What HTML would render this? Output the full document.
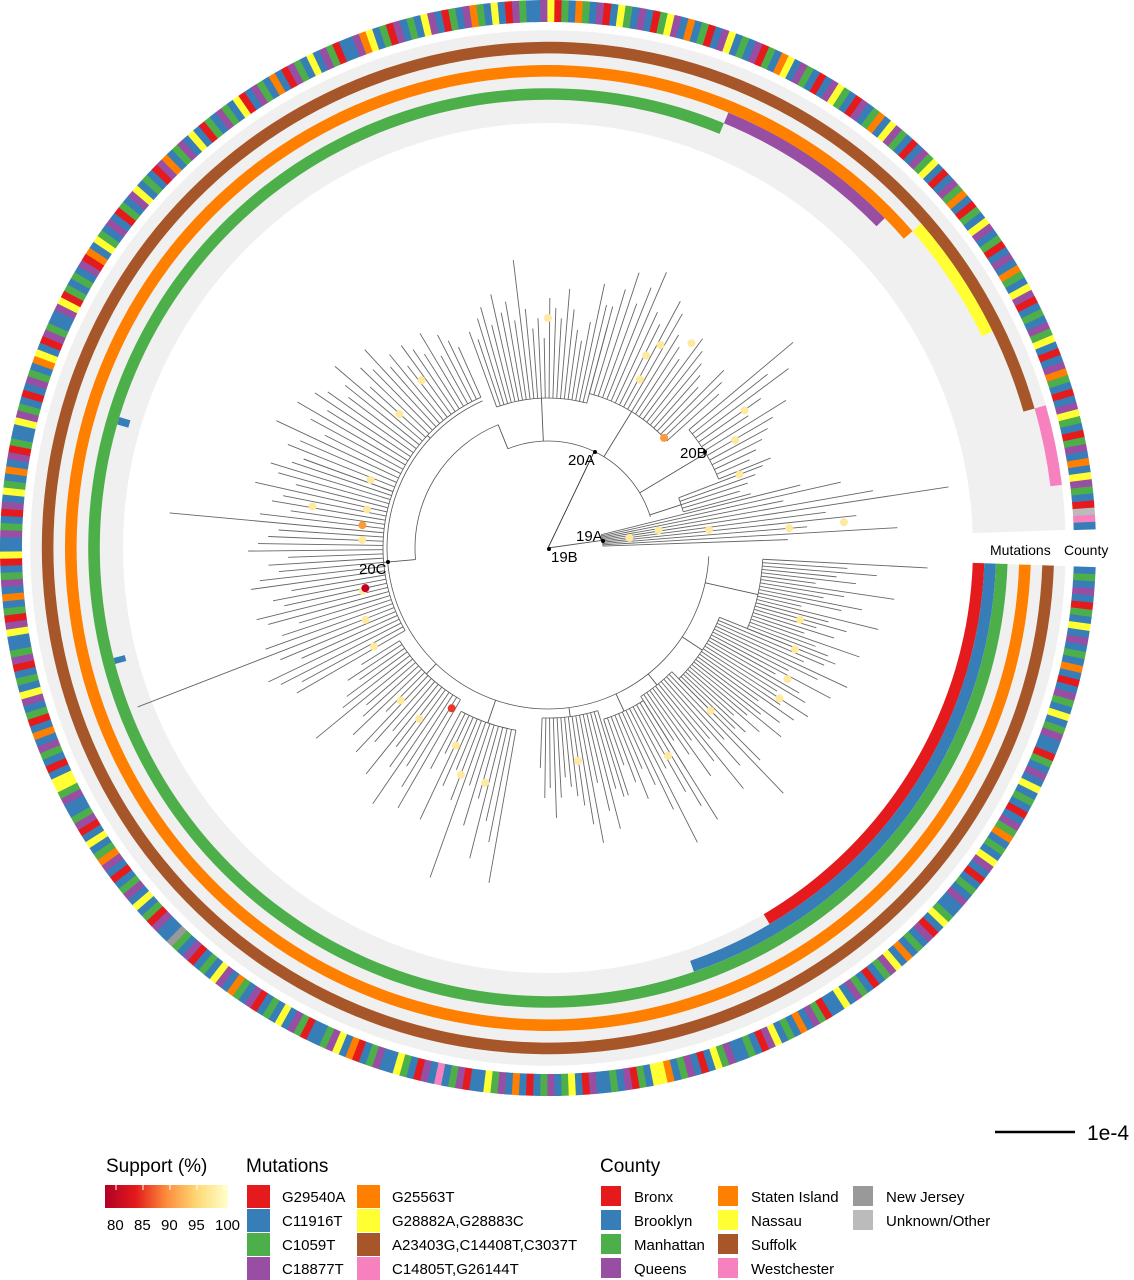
<!DOCTYPE html>
<html><head><meta charset="utf-8"><style>
html,body{margin:0;padding:0;background:#fff;}
svg{display:block;font-family:"Liberation Sans",Arial,sans-serif;}
</style></head><body>
<svg id="chart" width="1134" height="1280" viewBox="0 0 1134 1280" xmlns="http://www.w3.org/2000/svg">
<defs>
<linearGradient id="supgrad" x1="0" x2="1" y1="0" y2="0">
<stop offset="0" stop-color="#b10026"/><stop offset="0.25" stop-color="#e31a1c"/><stop offset="0.5" stop-color="#fd8d3c"/><stop offset="0.75" stop-color="#fed976"/><stop offset="1" stop-color="#ffffcc"/>
</linearGradient>
</defs>
<g id="rings"></g>
<g id="tree"></g>
<g id="dots"></g>
<g id="labels" font-size="15" fill="#000">
<text x="551" y="562">19B</text>
<text x="576" y="541">19A</text>
<text x="568" y="465">20A</text>
<text x="680" y="458">20B</text>
<text x="359" y="574">20C</text>
<text x="990" y="555" font-size="14">Mutations</text>
<text x="1064" y="555" font-size="14">County</text>
</g>
<g>
<line x1="995" y1="1132" x2="1075" y2="1132" stroke="#000" stroke-width="2.5"/>
<text x="1087" y="1140" font-size="21">1e-4</text>
</g>
<g id="legend"></g>
</svg>
<script>
// ---- data ----
const countyColors = {r:'#e41a1c',b:'#377eb8',g:'#4daf4a',q:'#984ea3',s:'#ff7f00',y:'#ffff33',f:'#a65628',w:'#f781bf',n:'#999999',u:'#bbbbbb'};
const countySeq = "bgbqbrgbybqbgbsbrbqgbybgqbbrgbqbybgbrbqgsbgbyqbrbgbqbbgybrqbgbsbyqgbrbgqbybbrgqbsbgbyqrbgbbqgybrbqgbsyybgrqbgbbqrbygbqgbrbsbqgybbrqgbwbqrbgybbqgbrsbyqgbbrgqbybgbrqbgsbqybgbrqbgnbbqrgbybqgbrbqsgbybrqgbbqgyybrbgqbsbrgbqybgbrqgbbyqrgbsbqgbrybbqgbrqbygbsbqrgbbyqgbrbqgbsybrqgbbqyrgbgbqrsbygbqbrgbqybgbrqsbgqbybrgbqgbyrbqgbsbrqgbybqgrbbqsybgrqbgbyqbrgbqsgbybrqgbbqyrgbsgbqrbygbqbrgyqbsbgrbqybgbqrgbsybqgbrbqygbrqbgsbyqgbrbqgybrbqgsbrgbyqbgrbqbsgbyqrbgbqgybrbqsgbrbqygbrgqbsbyqgbruwb";
const mutTrackColors = ['#e41a1c','#377eb8','#4daf4a','#984ea3','#ff7f00','#ffff33','#a65628','#f781bf'];
const mutTracks = [0,1,1,1,2,3,4,5,6,7];
const mutStart  = [2,2,165,196,2,292.5,2,319,2,344];
const mutEnd    = [59.5,71,165.8,197,292.5,315.6,319,334,344,353];
const cladeNames  = ['c1','c2','c3','c4','c5','c6','c7','c8','c9','t1','t2','20b','t3','19a'];
const cladeStart  = [3,22,45,58,73,100,120,150,200,250,285,320,339,346];
const cladeEnd    = [22,45,58,72,92,118,148,200,246,285,318,338,345,358];
const cladeNodeR  = [215,185,175,180,170,185,175,165,165,150,160,184,140,55];
const cladeParentR= [161,161,161,161,161,161,161,161,161,107,107,107,107,0];
const cladeTips = [
"380 300 330 290 310 270 350 300 280 320 300 260 340 290 310 280 300 270 330 285 300 275",
"310 300 280 330 300 270 320 260 290 300 270 310 280 300 260 290 270 300 260 280 250 270 260 240",
"300 340 260 290 250 310 270 240 280 250 230 260",
"320 300 280 250 330 290 260 240 270 250 230 260",
"260 250 290 270 240 300 280 260 250 240 230 250 270 240 250 220",
"340 300 280 320 260 290 250 350 270 240 260 300 230 250",
"300 280 260 310 270 250 290 240 260 280 230 270 250 240 300 260 250 230 240 220",
"290 280 300 310 270 290 440 300 280 260 290 300 270 280 260 300 290 270 280 260 300 290 280 270 380 290 260 280 270 300 260 280 290 270 260",
"260 280 270 300 250 270 290 260 280 270 250 260 280 240 260 250 270 240 250 230 250 240 230 250 220 240 230 220",
"230 220 240 250 230 260 240 250 230 290 240 220 230 210 250 240 230 260 240 220 210 230 270 250 230",
"250 270 290 260 280 300 260 250 280 270 250 240 230 260 250 240 230 220 250 240 230",
"320 280 300 260 240 280 260 250 240 230 220 240",
"230 220 210 200 210",
"260 300 240 330 405 280 310 260 350 240"];
const backR = [107,133,161];
const backA0 = [248,175,3];
const backA1 = [343,248,246];
const dotAng = [201,192,182.5,167,158.5,150.5,134,127,115,111,105,190,297,298.6,299,330,325,339,352.9,351,353.6,355.3,355,15.9,22.3,28.7,33,270,305,45,60,82,222,233,167.6,121,316.5,187];
const dotR   = [190,185,186,190,196,200,212,214,218,243,243,239,216,192,232,216,240,205,82,112,162,242,297,262,267,273,276,230,250,230,240,215,200,210,187,187,160,187];
const dotCol = ['y','y','y','y','y','y','y','y','y','y','y','y','y','y','y','y','y','y','y','y','y','y','y','y','y','y','y','y','y','y','y','y','y','y','r','R','o','o'];

// ---- geometry ----
const cx=548, cy=548, NS='http://www.w3.org/2000/svg';
function pt(a,r){const t=a*Math.PI/180;return [cx+r*Math.cos(t),cy+r*Math.sin(t)];}
function sector(a0,a1,r0,r1){const p1=pt(a0,r1),p2=pt(a1,r1),p3=pt(a1,r0),p4=pt(a0,r0);const l=(a1-a0)>180?1:0;
return `M${p1[0]},${p1[1]}A${r1},${r1} 0 ${l} 1 ${p2[0]},${p2[1]}L${p3[0]},${p3[1]}A${r0},${r0} 0 ${l} 0 ${p4[0]},${p4[1]}Z`;}
function arcPath(a0,a1,r){const p1=pt(a0,r),p2=pt(a1,r);const l=(a1-a0)>180?1:0;return `M${p1[0]},${p1[1]}A${r},${r} 0 ${l} 1 ${p2[0]},${p2[1]}`;}
function mk(tag,attrs,parent){const e=document.createElementNS(NS,tag);for(const k in attrs)e.setAttribute(k,attrs[k]);parent.appendChild(e);return e;}

const rings=document.getElementById('rings');
const trackR0=425, trackW=11.6;
let bg=mk('path',{d:sector(2,358,trackR0,trackR0+8*trackW),fill:'#f0f0f0'},rings);


for(let i=0;i<mutTracks.length;i++){
  const t=mutTracks[i];
  const e=mk('path',{d:sector(mutStart[i],mutEnd[i],trackR0+t*trackW,trackR0+(t+1)*trackW),fill:mutTrackColors[t]},rings);
  
  
}
const cA0=2,cA1=358,n=countySeq.length,step=(cA1-cA0)/n;
for(let i=0;i<n;i++){
  const e=mk('path',{d:sector(cA0+i*step,cA0+(i+1)*step+0.05,526,548),fill:countyColors[countySeq[i]]},rings);
  
  
}
const tree=document.getElementById('tree');
const st={stroke:'#555','stroke-width':0.8,fill:'none'};
function line(a,r0,r1,col){const p=pt(a,r0),q=pt(a,r1);return mk('line',{x1:p[0],y1:p[1],x2:q[0],y2:q[1],stroke:col||'#555','stroke-width':0.9},tree);}
let l1=line(295.6,0,107,'#333');


for(let i=0;i<backR.length;i++){
  const e=mk('path',Object.assign({d:arcPath(backA0[i],backA1[i],backR[i])},st),tree);
  
  
}
let l2=line(248,107,133);


let l3=line(175,133,161);


for(let c=0;c<cladeNames.length;c++){
  const tips=cladeTips[c].split(' ').map(Number);
  const a0=cladeStart[c],a1=cladeEnd[c],nr=cladeNodeR[c];
  const mid=(a0+a1)/2;
  const rl=line(mid,cladeParentR[c],nr);
  
  
  const ar=mk('path',Object.assign({d:arcPath(a0,a1,nr)},st),tree);
  
  
  const k=tips.length;
  for(let j=0;j<k;j++){
    const a=k>1?a0+(a1-a0)*j/(k-1):mid;
    const tl=line(a,nr,tips[j],'#666');
    
    
  }
}
const dotsG=document.getElementById('dots');
const dc={y:'#fde9a0',r:'#c4001f',R:'#e8382a',o:'#fb9a3c'};
for(let i=0;i<dotAng.length;i++){
  const p=pt(dotAng[i],dotR[i]);
  const e=mk('circle',{cx:p[0],cy:p[1],r:4,fill:dc[dotCol[i]]},dotsG);
  
  
}
[[549,549],[603,541],[595,452],[705,452],[388,562]].forEach(p=>{
  const e=mk('circle',{cx:p[0],cy:p[1],r:2,fill:'#000'},dotsG);
  
  
});

const lg=document.getElementById('legend');
function txt(x,y,s,size,name){const e=mk('text',{x:x,y:y,'font-size':size},lg);e.textContent=s;

return e;}
txt(106,1172,'Support (%)',19,'support-legend-title');
let gr=mk('rect',{x:105,y:1185,width:123,height:23,fill:'url(#supgrad)'},lg);


const supTicks=['80','85','90','95','100'];
supTicks.forEach((s,i)=>{txt(107+i*27,1230,s,15,'support-tick-label');
  const tk=mk('line',{x1:116+i*27,y1:1185,x2:116+i*27,y2:1190,stroke:'#fff','stroke-width':1},lg);
  
  });
txt(246,1172,'Mutations',19,'mutations-legend-title');
const mutLabels=['G29540A','C11916T','C1059T','C18877T','G25563T','G28882A,G28883C','A23403G,C14408T,C3037T','C14805T,G26144T'];
mutLabels.forEach((s,i)=>{const col=Math.floor(i/4),row=i%4;
  const sx=247+col*110,sy=1185+row*24;
  const r=mk('rect',{x:sx,y:sy,width:23,height:23,fill:mutTrackColors[i]},lg);
  
  
  txt(sx+35,sy+17,s,15,'mutation-legend-label');});
txt(600,1172,'County',19,'county-legend-title');
const countyLabels=['Bronx','Brooklyn','Manhattan','Queens','Staten Island','Nassau','Suffolk','Westchester','New Jersey','Unknown/Other'];
const countyKeys=['r','b','g','q','s','y','f','w','n','u'];
const colX=[601,718,853];
countyLabels.forEach((s,i)=>{const col=Math.floor(i/4),row=i%4;
  const sx=colX[col],sy=1186+row*24;
  const r=mk('rect',{x:sx,y:sy,width:20,height:20,fill:countyColors[countyKeys[i]]},lg);
  
  
  txt(sx+33,sy+16,s,15,'county-legend-label');});
</script>
</body></html>
